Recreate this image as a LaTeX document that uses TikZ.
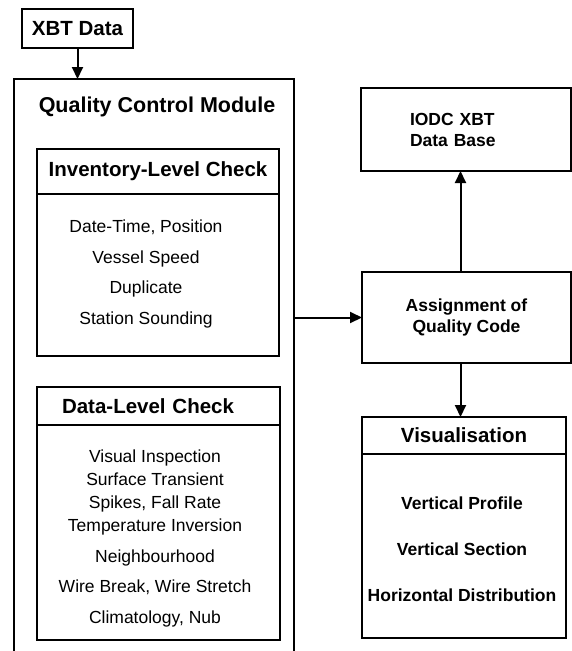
\documentclass[tikz,border=0pt]{standalone}
\usepackage{fontspec}
\setmainfont{Liberation Sans}
\usepackage{tikz}
\usetikzlibrary{arrows.meta,positioning}
\tikzset{
    %Define standard arrow tip
    >={Triangle[length=12pt,width=11pt]},
    %Define style for boxes
    box/.style={
           rectangle,
           draw=black, line width=1.7pt,
           outer sep=0pt,
           font=\bfseries\fontsize{17.5}{21}\selectfont,
           align=center},
    head/.style={
           rectangle,
           draw=black, line width=1.7pt,
           outer sep=0pt, inner sep=0pt,
           font=\bfseries\fontsize{20.5}{24}\selectfont},
    body/.style={
           rectangle,
           draw=black, line width=1.7pt,
           outer sep=0pt, inner sep=0pt},
    items/.style={
           align=center,
           font=\fontsize{17.5}{23}\selectfont},
    % Define arrow style
    pil/.style={
           ->,
           draw=black,
           line width=2pt}
}
\begin{document}
\begin{tikzpicture}[x=1pt,y=-1pt]
\path[use as bounding box,clip] (0,0) rectangle (572,651);
 %nodes
\node[box, minimum width=111pt, minimum height=39pt, font=\bfseries\fontsize{20.5}{24}\selectfont] (xbt) at (77.5,28.5) {XBT Data};
\node[body, minimum width=280pt, minimum height=620pt, anchor=north west] (qcm) at (14,79) {};
\node[font=\bfseries\fontsize{21.5}{24}\selectfont] (qcmtitle) at (157,107) {Quality Control Module};
\node[head, minimum width=242pt, minimum height=45pt] (invhead) at (158,171.5) {Inventory-Level Check};
\node[body, minimum width=242pt, minimum height=162pt, anchor=north] (invbody) at (invhead.south) {};
\node[items, font=\fontsize{17.5}{30.7}\selectfont] (invitems) at (146,274) {Date-Time, Position\\Vessel Speed\\Duplicate\\Station Sounding};
\node[head, minimum width=243pt, minimum height=38pt, align=left, text width=193pt] (datahead) at (158.5,406) {Data-Level Check};
\node[body, minimum width=243pt, minimum height=215pt, below=0pt of datahead] (databody) {};
\node[items] (dataitems) at (155,538.5) {Visual Inspection\\Surface Transient\\Spikes, Fall Rate\\Temperature Inversion\\[8pt]Neighbourhood\\[7pt]Wire Break, Wire Stretch\\[8pt]Climatology, Nub};
\node[box, minimum width=210pt, minimum height=83pt, align=left, text width=112pt, inner sep=0pt] (iodc) at (466,129.5) {IODC XBT\\Data Base};
\node[box, minimum width=209pt, minimum height=91pt] (assign) at (466.5,317.5) {Assignment of\\Quality Code};
\node[head, minimum width=204pt, minimum height=37pt] (vishead) at (464,435.5) {Visualisation};
\node[body, minimum width=204pt, minimum height=184pt, below=0pt of vishead] (visbody) {};
\node[items, font=\bfseries\fontsize{17.5}{46}\selectfont] (visitems) at (462,549) {Vertical Profile\\Vertical Section\\Horizontal Distribution};
 %arrows
\draw[pil] (xbt) -- (xbt |- qcm.north);
\draw[pil] (assign.west -| qcm.east) -- (assign);
\draw[pil] ([xshift=-6pt]assign.north) -- ([xshift=-6pt]assign.north |- iodc.south);
\draw[pil] ([xshift=-6pt]assign.south) -- ([xshift=-6pt]assign.south |- vishead.north);
\end{tikzpicture}
\end{document}
